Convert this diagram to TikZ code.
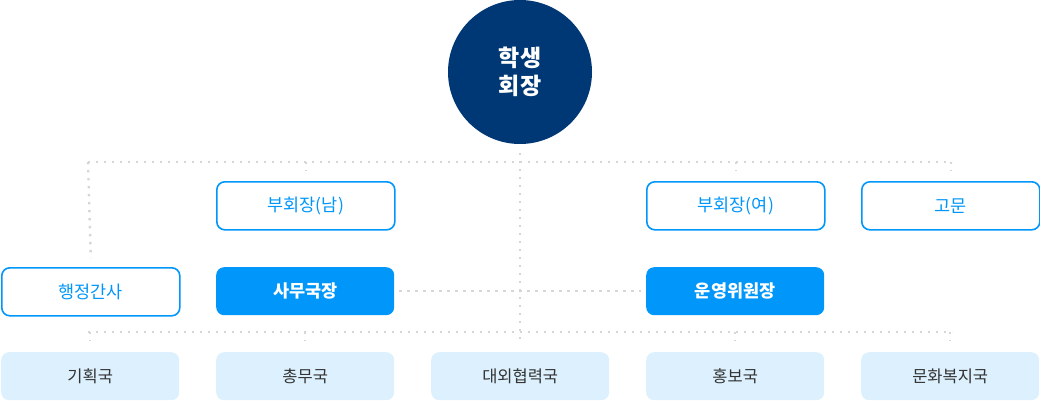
\documentclass[tikz,border=0pt]{standalone}
\usepackage{fontspec}
\setmainfont{Noto Sans CJK KR}
\definecolor{navy}{HTML}{003875}
\definecolor{bblue}{HTML}{0096FA}
\definecolor{lblue}{HTML}{DCF0FD}
\definecolor{dotgray}{HTML}{D6D6D6}
\definecolor{txtgray}{HTML}{333333}
\tikzset{
  box/.style={rounded corners=8pt, minimum width=178pt, minimum height=48pt, inner sep=0pt, anchor=north west},
  outlinebox/.style={box, draw=bblue, line width=1.6pt, fill=white, text=bblue, font=\fontsize{17.5}{20}\selectfont},
  filledbox/.style={box, fill=bblue, text=white, font=\fontsize{17.5}{20}\selectfont\bfseries},
  deptbox/.style={box, fill=lblue, text=txtgray, font=\fontsize{16.5}{19}\selectfont},
  dotline/.style={dotgray, line width=2.4pt, dash pattern=on 2.4pt off 5.6pt},
}
\begin{document}
\begin{tikzpicture}[x=1pt,y=-1pt]
\useasboundingbox (0,0) rectangle (1040,401);
% head
\node[circle, fill=navy, minimum size=144pt, inner sep=0pt, text=white, align=center,
      font=\fontsize{23}{28}\selectfont\bfseries] (head) at (520,72) {학생\\회장};
% coordinates
\coordinate (vtop) at (520,153);
\coordinate (vbot) at (520,341);
\coordinate (tl) at (88,162);
\coordinate (tr) at (952,162);
\coordinate (bl) at (88,332);
\coordinate (br) at (952,332);
% row 1
\node[outlinebox] (vpm) at (216,181) {부회장(남)};
\node[outlinebox] (vpf) at (646,181) {부회장(여)};
\node[outlinebox] (adv) at (861,181) {고문};
% row 2
\node[outlinebox] (admin) at (1,267) {행정간사};
\node[filledbox] (sec) at (216,267) {사무국장};
\node[filledbox] (ops) at (646,267) {운영위원장};
% row 3
\node[deptbox] (d1) at (1,352) {기획국};
\node[deptbox] (d2) at (216,352) {총무국};
\node[deptbox] (d3) at (431,352) {대외협력국};
\node[deptbox] (d4) at (646,352) {홍보국};
\node[deptbox] (d5) at (861,352) {문화복지국};
% connectors
\draw[dotline] (tl) -- (tr);
\draw[dotline] (vtop) -- (vbot);
\draw[dotline] (tl) -- ([yshift=9pt]admin.north);
\draw[dotline] (vpm.north |- tl) -- ([yshift=10pt]vpm.north);
\draw[dotline] (vpf.north |- tl) -- ([yshift=10pt]vpf.north);
\draw[dotline] (adv.north |- tl) -- ([yshift=10pt]adv.north);
\draw[dotline] ([xshift=5pt]sec.east) -- ([xshift=-5pt]ops.west);
\draw[dotline] (bl) -- (br);
\foreach \d in {d1,d2,d4,d5}{
  \draw[dotline] (\d.north |- bl) -- ([yshift=11pt]\d.north);
}
\end{tikzpicture}
\end{document}
